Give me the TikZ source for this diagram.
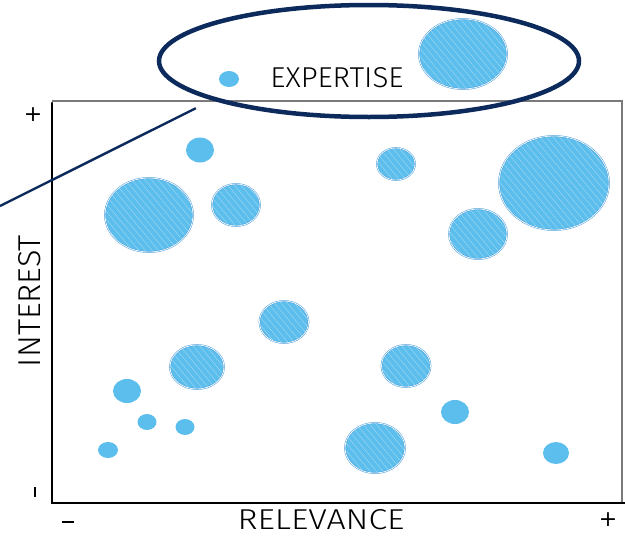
\documentclass[tikz,border=0pt]{standalone}
\usepackage{fontspec}
\setmainfont{Fira Sans}[UprightFont=* Light]
\newfontfamily\signfont{DejaVu Sans}
\usepackage{graphicx}
\usetikzlibrary{shapes.geometric,patterns.meta}
\definecolor{bubble}{HTML}{5CBEEC}
\definecolor{bubbleline}{HTML}{4A9EDB}
\definecolor{hatch}{HTML}{A8DDF6}
\definecolor{navy}{HTML}{0C2B5C}
\definecolor{framegrey}{HTML}{7A7A7A}
\newcommand{\fitbox}[3]{\resizebox{#1pt}{#2pt}{#3}}
\begin{document}
\begin{tikzpicture}[x=1pt,y=-1pt,
  dot/.style={ellipse, fill=bubble, inner sep=0pt, outer sep=0pt, draw=none},
  sketch/.style={dot, draw=bubbleline, line width=0.5pt, double=white, double distance=0.7pt,
     postaction={draw=none, pattern={Lines[angle=-50,distance=5pt,line width=0.35pt]}, pattern color=hatch}},
  lbl/.style={inner sep=0pt, outer sep=0pt, text=black},
  sign/.style={lbl, font=\signfont\fontsize{22}{22}\selectfont},
  axis/.style={line width=2.6pt, black, line cap=round},
  thin frame/.style={line width=1.4pt, framegrey}
]
\useasboundingbox (0,0) rectangle (625,536);
% frame
\draw[thin frame] (52,101) -- (622,101) -- (622,503);
\draw[axis] (52,103) -- (52,503) -- (625,503);
% bubbles
\node[sketch, minimum width=88, minimum height=74] (b1) at (149,215) {};
\node[dot, minimum width=28, minimum height=25] (b2) at (200,150) {};
\node[sketch, minimum width=48, minimum height=42] (b3) at (236,205) {};
\node[sketch, minimum width=38, minimum height=32] (b4) at (396,164) {};
\node[sketch, minimum width=110, minimum height=94] (b5) at (554,183) {};
\node[sketch, minimum width=58, minimum height=50] (b6) at (478,234) {};
\node[sketch, minimum width=49, minimum height=42] (b7) at (284,322) {};
\node[sketch, minimum width=54, minimum height=44] (b8) at (197,367) {};
\node[sketch, minimum width=49, minimum height=42] (b9) at (406,366) {};
\node[dot, minimum width=28, minimum height=24] (b10) at (127,391) {};
\node[dot, minimum width=19, minimum height=16] (b11) at (147,422) {};
\node[dot, minimum width=19, minimum height=16] (b12) at (185,427) {};
\node[dot, minimum width=20, minimum height=16] (b13) at (108,450) {};
\node[dot, minimum width=28, minimum height=24] (b14) at (455,412) {};
\node[sketch, minimum width=60, minimum height=50] (b15) at (375,448) {};
\node[dot, minimum width=26, minimum height=22] (b16) at (556,453) {};
% legend
\node[ellipse, draw=navy, line width=4.5pt, minimum width=420, minimum height=112, inner sep=0pt] (legend) at (369,61) {};
\node[dot, minimum width=20, minimum height=16] (ldot) at (229,79) {};
\node[lbl] (lexp) at (337,78) {\fitbox{133}{20}{EXPERTISE}};
\node[sketch, minimum width=88, minimum height=70] (lbig) at (463,54) {};
\coordinate (lstart) at (0,206);
\draw[navy, line width=2.4pt, shorten >=18pt] (lstart) -- (legend.194);
% axis labels
\node[lbl] (xlab) at (321,520) {\fitbox{167}{20}{RELEVANCE}};
\node[lbl] (xminus) at (68,522) {\fitbox{12}{2}{\rule{1em}{0.1em}}};
\node[sign] (xplus) at (608,520) {+};
\node[lbl, rotate=90] (ylab) at (30,301) {\fitbox{132}{22}{INTEREST}};
\node[lbl, rotate=90] (yminus) at (35,492) {\fitbox{10}{2}{\rule{1em}{0.1em}}};
\node[sign] (yplus) at (33,115) {+};
\end{tikzpicture}
\end{document}
